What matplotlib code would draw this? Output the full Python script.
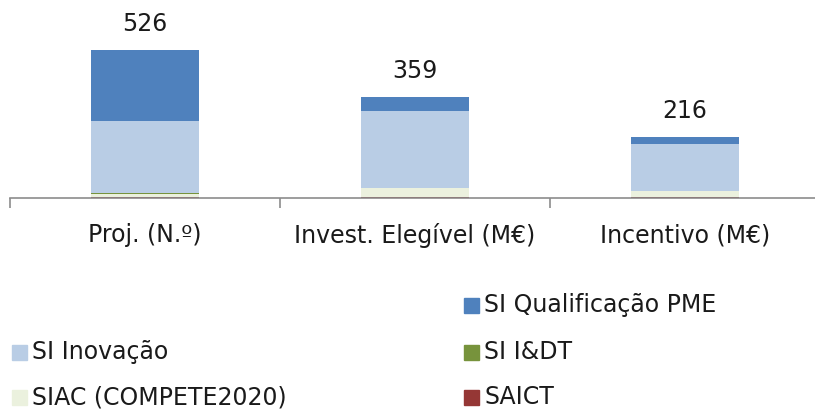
import matplotlib
matplotlib.use("Agg")
import matplotlib.pyplot as plt
from matplotlib.patches import Rectangle
import numpy as np

categories = ["Proj. (N.º)", "Invest. Elegível (M€)", "Incentivo (M€)"]
totals = [526, 359, 216]

series_names = ["SAICT", "SIAC (COMPETE2020)", "SI I&DT", "SI Inovação", "SI Qualificação PME"]
saict = [3, 4, 3]
siac = [12, 30, 22]
si_idt = [2, 0, 0]
si_inovacao = [258, 274, 167]
si_pme = [251, 51, 24]
colors = ["#953735", "#EBF1DE", "#77933C", "#B9CDE5", "#4F81BD"]

plt.rcParams["font.family"] = ["DejaVu Sans"]

W, H = 815, 409
fig = plt.figure(figsize=(W / 100, H / 100), dpi=100)
# axes from x=10 px to past the right edge, baseline at y=198 px
ax = fig.add_axes([10 / W, (H - 198) / H, 810 / W, 168.9 / H])

x = np.arange(len(categories))
bottom = np.zeros(len(categories))
for name, vals, c in zip(series_names, [saict, siac, si_idt, si_inovacao, si_pme], colors):
    ax.bar(x, vals, width=0.4, bottom=bottom, color=c, label=name)
    bottom += np.array(vals)

for xi, t in zip(x, totals):
    ax.annotate(str(t), (xi, t), xytext=(0, 19), textcoords="offset points",
                ha="center", va="center", fontsize=17, color="#1a1a1a")

ax.set_xlim(-0.5, 2.5)
ax.set_ylim(0, 600)
for s in ["top", "right", "left"]:
    ax.spines[s].set_visible(False)
ax.spines["bottom"].set_color("#8c8c8c")
ax.spines["bottom"].set_linewidth(1.2)
ax.set_yticks([])
ax.set_xticks([-0.5, 0.5, 1.5, 2.5])
ax.set_xticklabels([])
ax.tick_params(axis="x", which="major", length=7, color="#8c8c8c", width=1.2)
ax.set_xticks(x, minor=True)
ax.set_xticklabels(categories, minor=True, fontsize=17, color="#1a1a1a")
ax.tick_params(axis="x", which="minor", length=0, pad=18)

# legend laid out like the original (two columns, first slot empty)
legend_slots = {
    "SI Qualificação PME": (464, 305),
    "SI Inovação": (12, 352),
    "SI I&DT": (464, 352),
    "SIAC (COMPETE2020)": (12, 397),
    "SAICT": (464, 397),
}
for name, c in zip(series_names, colors):
    px, py = legend_slots[name]
    fig.add_artist(Rectangle((px / W, (H - py - 7.5) / H), 15 / W, 15 / H,
                             transform=fig.transFigure, color=c))
    fig.text((px + 20) / W, (H - py) / H, name, fontsize=17, va="center",
             ha="left", color="#1a1a1a")

fig.savefig("out.png", dpi=100)
